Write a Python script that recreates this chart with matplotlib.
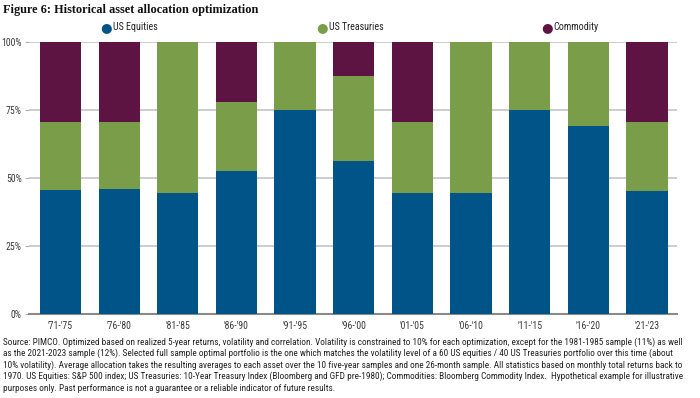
import matplotlib
matplotlib.use("Agg")
import matplotlib.pyplot as plt
from matplotlib.ticker import FixedLocator

periods = ["'71-'75", "'76-'80", "'81-'85", "'86-'90", "'91-'95", "'96-'00",
           "'01-'05", "'06-'10", "'11-'15", "'16-'20", "'21-'23"]
equities = [45.6, 46.0, 44.5, 52.5, 75.0, 56.4, 44.4, 44.4, 75.0, 69.2, 45.1]
treasuries = [25.0, 24.5, 55.5, 25.6, 25.0, 31.2, 26.1, 55.6, 25.0, 30.8, 25.4]
commodity = [29.4, 29.5, 0.0, 21.9, 0.0, 12.4, 29.5, 0.0, 0.0, 0.0, 29.5]

labels = ["US Equities", "US Treasuries", "Commodity"]
colors = ["#005488", "#799D48", "#5E1442"]

yticks = [0, 25, 50, 75, 100]

footnote = [
    "Source: PIMCO. Optimized based on realized 5-year returns, volatility and correlation. Volatility is constrained to 10% for each optimization, except for the 1981-1985 sample (11%) as well",
    "as the 2021-2023 sample (12%). Selected full sample optimal portfolio is the one which matches the volatility level of a 60 US equities / 40 US Treasuries portfolio over this time (about",
    "10% volatility). Average allocation takes the resulting averages to each asset over the 10 five-year samples and one 26-month sample. All statistics based on monthly total returns back to",
    "1970. US Equities: S&P 500 index; US Treasuries: 10-Year Treasury Index (Bloomberg and GFD pre-1980); Commodities: Bloomberg Commodity Index.  Hypothetical example for illustrative",
    "purposes only. Past performance is not a guarantee or a reliable indicator of future results.",
]

narrow = ["Liberation Sans Narrow", "Roboto Condensed", "DejaVu Sans"]

fig = plt.figure(figsize=(7, 3.98), dpi=100)
ax = fig.add_axes([0.041, 0.211, 0.926, 0.683])

x = range(len(periods))
bottom = [0.0] * len(periods)
for vals, lab, col in zip([equities, treasuries, commodity], labels, colors):
    ax.bar(x, vals, width=0.7, bottom=bottom, color=col, label=lab, zorder=3)
    bottom = [b + v for b, v in zip(bottom, vals)]

ax.set_xlim(-0.54, 10.51)
ax.set_ylim(0, 100)
ax.yaxis.set_major_locator(FixedLocator(yticks))
ax.set_yticklabels([f"{t}%" for t in yticks], family=narrow, fontsize=7, color="#3a3a3a")
ax.set_xticks(list(x))
ax.set_xticklabels(periods, family=narrow, fontsize=7, color="#3a3a3a")
ax.tick_params(axis="x", length=0, pad=5)
ax.tick_params(axis="y", length=3, color="#b0b0b0", pad=2)
ax.grid(axis="y", color="#c4c4c4", linewidth=1.2, zorder=0)
for s in ["top", "right", "left"]:
    ax.spines[s].set_visible(False)
ax.spines["bottom"].set_color("#8a8a8a")
ax.spines["bottom"].set_linewidth(1.5)

# legend across the top
leg_x = [0.151, 0.460, 0.781]
for lx, lab, col in zip(leg_x, labels, colors):
    fig.text(lx, 0.931, "\u25CF", color=col, fontsize=9.5, ha="center", va="center")
    fig.text(lx + 0.010, 0.931, lab, family=narrow, fontsize=7.2, color="#222222",
             ha="left", va="center")

fig.text(0.004, 0.975, "Figure 6: Historical asset allocation optimization",
         family=["Liberation Serif", "DejaVu Serif"], fontsize=8.8, fontweight="bold",
         color="#111111", ha="left", va="center")

for i, line in enumerate(footnote):
    fig.text(0.004, 0.141 - i * 0.029, line, family=narrow, fontsize=6.7,
             color="#222222", ha="left", va="center")

fig.savefig("out.png", dpi=100)
